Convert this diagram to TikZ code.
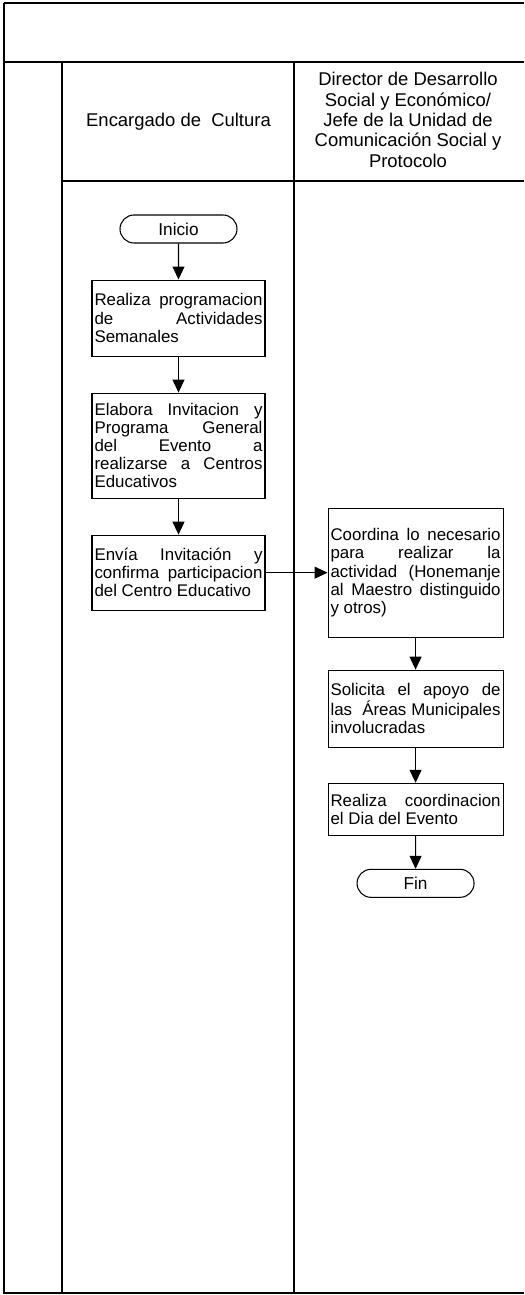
\documentclass[tikz,border=0pt]{standalone}
\usepackage{fontspec}
\setmainfont{Liberation Sans}
\usetikzlibrary{arrows.meta}
\usetikzlibrary{positioning}
\usetikzlibrary{shapes.misc}
\hyphenpenalty=10000
\exhyphenpenalty=10000
\tolerance=9999
\tikzset{
    lane/.style = {line width=0.8pt},
    flow/.style = {line width=0.6pt,-{Triangle[length=0.26cm,width=0.24cm]}},
    actbox/.style = {draw,line width=0.6pt,text width=3.36cm,inner xsep=0.05cm,align=justify,font=\fontsize{9.6}{10.3}\selectfont},
    terminal/.style = {draw,line width=0.6pt,shape=rounded rectangle,minimum width=2.34cm,minimum height=0.56cm,inner sep=0,font=\fontsize{9.8}{10.3}\selectfont},
    lanehead/.style = {align=center,font=\fontsize{10.5}{11.6}\selectfont}
}
\begin{document}
\begin{tikzpicture}
        \useasboundingbox (0,0) rectangle (10.48,-25.9);
        % Lanes
        \coordinate (tl) at (0.08,-0.06);
        \coordinate (tr) at (10.48,-0.06);
        \coordinate (bl) at (0.08,-25.86);
        \coordinate (br) at (10.48,-25.86);
        \draw[lane] (tl) -- (tr);
        \draw[lane] (tl) -- (bl) -- (br);
        \draw[lane] (0.08,-1.24) -- (10.48,-1.24);
        \draw[lane] (1.24,-1.24) -- (1.24,-25.86);
        \draw[lane] (5.88,-1.24) -- (5.88,-25.86);
        \draw[lane] (1.24,-3.62) -- (10.48,-3.62);
        % Lane heads
        \node[lanehead] (cultura) at (3.57,-2.44) {Encargado de\ \ Cultura};
        \node[lanehead] (director) at (8.16,-2.4) {Director de Desarrollo\\Social y Económico/\\Jefe de la Unidad de\\Comunicación Social y\\Protocolo};
        % Steps
        \node[terminal] (inicio) at (3.57,-4.58) {Inicio};
        \node[actbox,minimum height=1.52cm,below=0.72cm of inicio] (prog) {Realiza programacion\linebreak de Actividades\linebreak Semanales};
        \node[actbox,minimum height=2.1cm,below=0.72cm of prog] (invit) {Elabora Invitacion y\linebreak Programa General\linebreak del Evento a\linebreak realizarse a Centros\linebreak Educativos};
        \node[actbox,minimum height=1.5cm,below=0.72cm of invit] (envia) {Envía Invitación y\linebreak confirma participacion\linebreak del Centro Educativo};
        \node[actbox,text width=3.4cm,minimum height=2.58cm,right=1.24cm of envia] (coord) {Coordina lo necesario\linebreak para realizar la\linebreak actividad (Honemanje\linebreak al Maestro distinguido\linebreak y otros)};
        \node[actbox,text width=3.4cm,minimum height=1.54cm,below=0.64cm of coord] (apoyo) {Solicita el apoyo de\linebreak las\ \ Áreas Municipales\linebreak involucradas};
        \node[actbox,text width=3.4cm,minimum height=1.04cm,below=0.7cm of apoyo] (dia) {Realiza coordinacion\linebreak el Dia del Evento};
        \node[terminal,below=0.66cm of dia] (fin) {Fin};
        % Connectors
        \foreach \src/\dest in {inicio/prog,prog/invit,invit/envia,envia/coord,coord/apoyo,apoyo/dia,dia/fin}
            \draw[flow] (\src) -- (\dest);
\end{tikzpicture}
\end{document}
